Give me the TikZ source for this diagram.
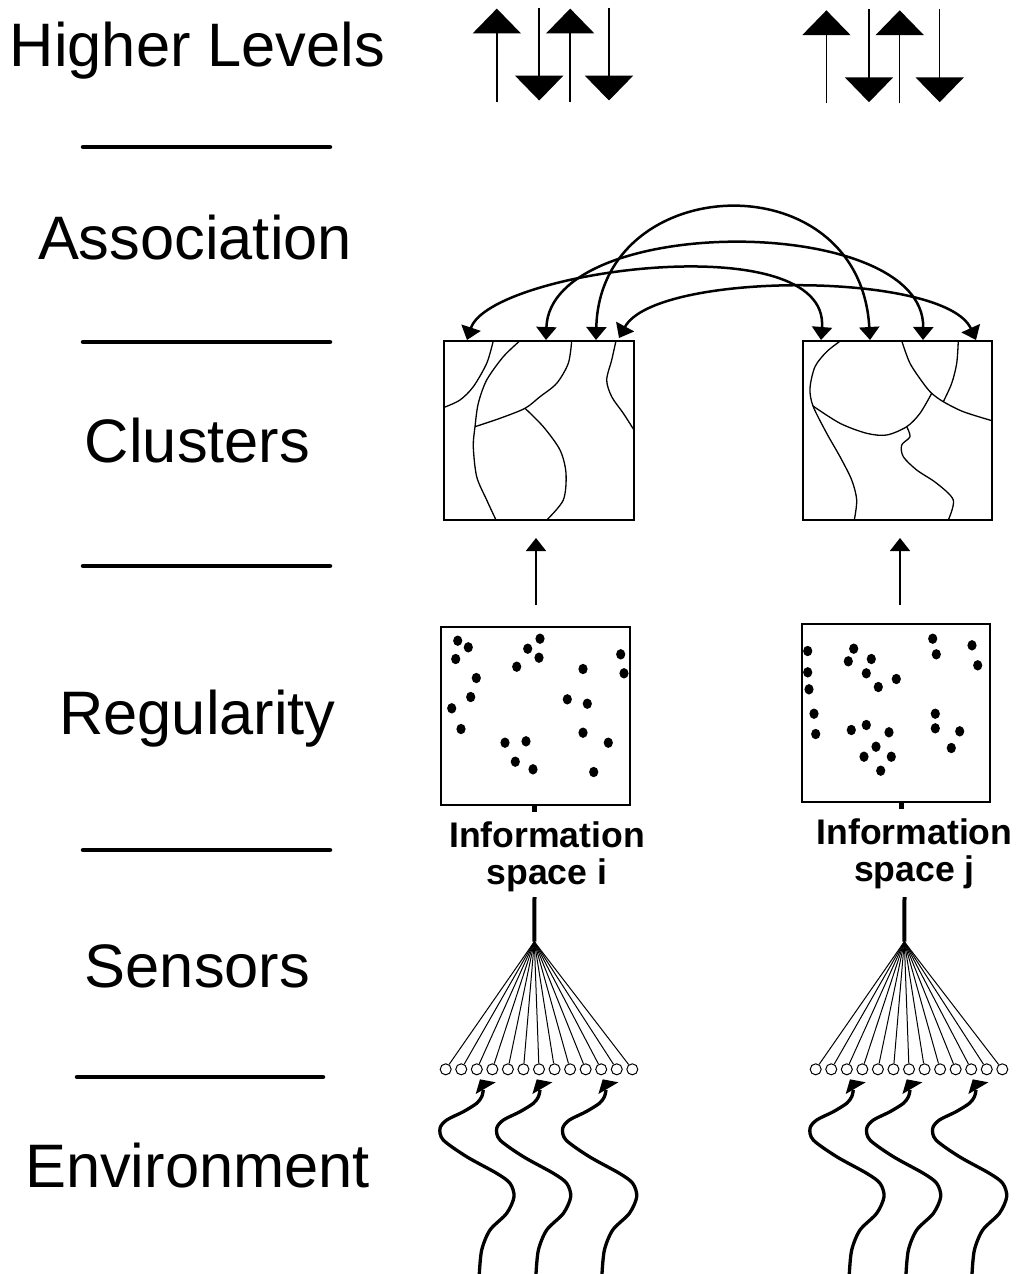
\documentclass[tikz,border=0pt]{standalone}
\usepackage{fontspec}
\setmainfont{Liberation Sans}
\usetikzlibrary{arrows.meta}
\begin{document}
\begin{tikzpicture}[x=0.5pt,y=-0.5pt,
  layer/.style={font=\fontsize{30.7}{36}\selectfont, anchor=base, inner sep=0pt},
  info/.style={font=\bfseries\fontsize{17.8}{18.5}\selectfont, align=center, anchor=north, inner sep=0pt},
  rule/.style={line width=2.25pt, line cap=round},
  bigtip/.style={line width=0.75pt, -{Triangle[length=12.4pt,width=24pt]}},
  assoc/.style={line width=1.25pt, {Triangle[length=6.5pt,width=10pt]}-{Triangle[length=6.5pt,width=10pt]}},
  uparr/.style={line width=0.9pt, -{Triangle[length=6.5pt,width=10pt]}},
  frame/.style={draw, line width=0.8pt, inner sep=0pt},
  border/.style={line width=0.65pt},
  stem/.style={line width=2pt},
  fanline/.style={line width=0.5pt},
  sensor/.style={circle, draw, fill=white, line width=0.5pt, minimum size=5.5pt, inner sep=0pt},
  wave/.style={line width=1.65pt},
]
\useasboundingbox (0,0) rectangle (1016,1274);

% ---- layer names and separators ----
\node[layer] (lHigher) at (197.5,66)  {Higher Levels};
\node[layer] (lAssoc)  at (195,259)   {Association};
\node[layer] (lClus)   at (197.5,462) {Clusters};
\node[layer] (lReg)    at (197.5,734) {Regularity};
\node[layer] (lSens)   at (197.5,987) {Sensors};
\node[layer] (lEnv)    at (197.5,1187){Environment};

\draw[rule] (83,147) -- (330,147);
\draw[rule] (83,342) -- (330,342);
\draw[rule] (83,566) -- (330,566);
\draw[rule] (83,850) -- (330,850);
\draw[rule] (77,1077) -- (323,1077);

% ---- traffic to and from higher levels ----
\foreach \i/\x/\dy in {1/496.8/0, 2/570.2/0, 3/826.4/1.7, 4/899.7/1.7}{
  \coordinate (upF\i) at (\x,{101.6+\dy});
  \coordinate (upT\i) at (\x,{8.6+\dy});
  \draw[bigtip] (upF\i) -- (upT\i);
}
\foreach \i/\x/\dy in {1/539.2/0, 2/609/0, 3/869/1.7, 4/939.7/1.7}{
  \coordinate (dnF\i) at (\x,{7.6+\dy});
  \coordinate (dnT\i) at (\x,{100.5+\dy});
  \draw[bigtip] (dnF\i) -- (dnT\i);
}

% ---- cluster maps ----
\node[frame, minimum width=95pt, minimum height=89.5pt] (clL) at (539,430.5) {};
\node[frame, minimum width=94.5pt, minimum height=89.5pt] (clR) at (897.5,430.5) {};

\draw[border] plot[smooth] coordinates {(493.3,340.7) (486.7,363.3) (473.3,386.7) (460,400) (444.3,407.3)};
\draw[border] plot[smooth] coordinates {(520,340.7) (503.3,356.7) (486.7,380) (478.3,403.3) (475,426.7) (473.3,446.7) (476.7,476.7) (486.7,500) (496,520)};
\draw[border] plot[smooth] coordinates {(571.7,340.7) (568.3,363.3) (556.7,383.3) (540,396.7) (525,408.3) (500,418.3) (475,426.7)};
\draw[border] plot[smooth] coordinates {(525,408.3) (543.3,426.7) (560,450) (566,473.3) (563.3,500) (546.7,520)};
\draw[border] plot[smooth] coordinates {(616,340.7) (611.7,360) (606.7,380) (611.7,396.7) (623.3,413.3) (634,430)};

\draw[border] plot[smooth] coordinates {(840.7,340.7) (826.7,351.7) (815,366.7) (810,388.3) (813,406) (826.7,433.3) (840,456.7) (851.7,480) (856.7,500) (854.3,520)};
\draw[border] plot[smooth] coordinates {(813,406) (840,423.3) (866.7,433.3) (886.7,435) (906.7,426.7) (920,413.3) (931.7,393.3)};
\draw[border] plot[smooth] coordinates {(901.7,340.7) (910,363.3) (923.3,383.3) (931.7,393.3) (943.3,401.7) (963.3,411.7) (992,420.7)};
\draw[border] plot[smooth] coordinates {(958.3,340.7) (956.7,363.3) (951.7,383.3) (943.3,401.7)};
\draw[border] plot[smooth] coordinates {(906.7,426.7) (910,436.7) (901.7,445) (903.3,456.7) (916.7,470) (936.7,483.3) (953.3,500) (948.3,520)};

% ---- associations between the two cluster maps ----
\coordinate (aL1) at (467,340);
\coordinate (aL2) at (546,340);
\coordinate (aL3) at (596,340);
\coordinate (aL4) at (619,338);
\coordinate (aR1) at (821,340);
\coordinate (aR2) at (923,340);
\coordinate (aR3) at (870,340);
\coordinate (aR4) at (976,340);
\draw[assoc] (aL3) .. controls (600,170) and (860,160) .. (aR3);
\draw[assoc] (aL2) .. controls (550,213) and (925,213) .. (aR2);
\draw[assoc] (aL1) .. controls (490,270) and (830,225) .. (aR1);
\draw[assoc] (aL4) .. controls (655,271) and (945,271) .. (aR4);

% ---- regularity maps ----
\node[frame, minimum width=94.5pt, minimum height=89pt] (regL) at (535.5,716) {};
\node[frame, minimum width=94pt, minimum height=89pt] (regR) at (896,713) {};

\foreach \p in {(457.7,640.7),(468.3,647.3),(455.7,659),(476.3,678),(470.7,697),(451.7,708.3),(461,729),
  (540,638.7),(527.7,648.7),(539,657.7),(516.7,666.7),(620.7,654.3),(624,673.3),(583,669),
  (567.3,699.3),(587.3,703.7),(583,732.7),(608.3,742.7),(593.7,772),(505,742.7),(526,741.3),
  (515.3,761.7),(533,769.3)}
  \fill \p ellipse [x radius=2.3pt, y radius=2.6pt];
\foreach \p in {(807.7,651),(807.7,672.3),(809,689.3),(814,713.7),(815.7,734),(853.7,648.7),
  (848.3,661.3),(871.3,659),(866.3,673.3),(878.3,687),(896.3,679),(932.7,638.7),(936.3,654.3),
  (972,645.3),(977.7,665.3),(935.3,713.7),(935.3,728.3),(959.7,731.3),(951.3,748),(851.3,730),
  (866.3,725),(889,732.3),(876,746.7),(864,756.7),(891.3,756.7),(880.7,770.7)}
  \fill \p ellipse [x radius=2.3pt, y radius=2.6pt];

% ---- regularity feeds clusters ----
\coordinate (ruL) at (536,605);
\coordinate (ruR) at (900,605);
\coordinate (cdL) at (536,538);
\coordinate (cdR) at (900,538);
\draw[uparr] (ruL) -- (cdL);
\draw[uparr] (ruR) -- (cdR);

% ---- information spaces ----
\node[info] (infoL) at (547,821) {Information\\space i};
\node[info] (infoR) at (914.5,818) {Information\\space j};

\coordinate (stubL) at (534,812);
\coordinate (stubR) at (901.7,809);
\draw[line width=2.5pt] (regL.south -| stubL) -- (stubL);
\draw[line width=2.5pt] (regR.south -| stubR) -- (stubR);

\coordinate (stemL) at (534.5,897);
\coordinate (stemR) at (904.5,897);
\coordinate (apexL) at (534.3,941.7);
\coordinate (apexR) at (904.3,941.7);
\draw[stem] (stemL) -- (apexL);
\draw[stem] (stemR) -- (apexR);

% ---- sensor arrays, each sensor wired to its information space ----
\foreach \i in {0,...,12}{
  \node[sensor] (sL\i) at ({445.7+15.55*\i},1069.3) {};
  \node[sensor] (sR\i) at ({815.7+15.55*\i},1069.3) {};
  \draw[fanline] (apexL) -- (sL\i);
  \draw[fanline] (apexR) -- (sR\i);
}

% ---- signals from the environment ----
\foreach \dx in {0,56.7,122.7,370,426.7,492.7}{
  \begin{scope}[shift={(\dx,0)}]
    \draw[wave] plot[smooth] coordinates {(479.3,1274) (481.7,1250) (490,1230) (506.7,1213.3)
      (514,1196.7) (510,1183.3) (496.7,1173.3) (466.7,1156.7) (443.3,1140) (440,1128.3)
      (446.7,1120) (463.3,1111.7) (476.7,1103.3) (481.7,1096.7) (483.3,1090)};
    \fill (475.7,1094) -- (495.7,1082.3) -- (480,1079.3) -- cycle;
  \end{scope}
}
\end{tikzpicture}
\end{document}
